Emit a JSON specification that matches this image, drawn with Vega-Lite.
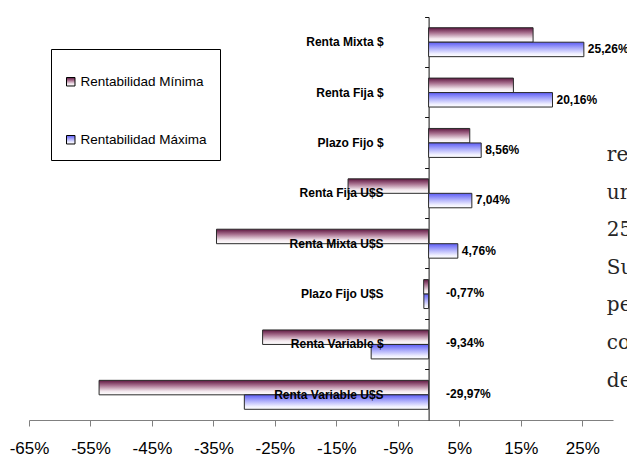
{
  "$schema": "https://vega.github.io/schema/vega-lite/v6.json",
  "width": 584,
  "height": 403,
  "autosize": {"type": "none"},
  "padding": {"left": 29, "top": 17, "right": 14, "bottom": 35},
  "background": "white",
  "config": {
    "locale": {"number": {"decimal": ",", "thousands": ".", "grouping": [3], "currency": ["$", ""], "minus": "-"}},
    "view": {"stroke": null},
    "font": "Liberation Sans"
  },
  "data": {
    "values": [
      {"fondo": "Renta Mixta $", "serie": "Rentabilidad Mínima", "rentabilidad": 0.170},
      {"fondo": "Renta Mixta $", "serie": "Rentabilidad Máxima", "rentabilidad": 0.2526},
      {"fondo": "Renta Fija $", "serie": "Rentabilidad Mínima", "rentabilidad": 0.138},
      {"fondo": "Renta Fija $", "serie": "Rentabilidad Máxima", "rentabilidad": 0.2016},
      {"fondo": "Plazo Fijo $", "serie": "Rentabilidad Mínima", "rentabilidad": 0.067},
      {"fondo": "Plazo Fijo $", "serie": "Rentabilidad Máxima", "rentabilidad": 0.0856},
      {"fondo": "Renta Fija U$S", "serie": "Rentabilidad Mínima", "rentabilidad": -0.131},
      {"fondo": "Renta Fija U$S", "serie": "Rentabilidad Máxima", "rentabilidad": 0.0704},
      {"fondo": "Renta Mixta U$S", "serie": "Rentabilidad Mínima", "rentabilidad": -0.345},
      {"fondo": "Renta Mixta U$S", "serie": "Rentabilidad Máxima", "rentabilidad": 0.0476},
      {"fondo": "Plazo Fijo U$S", "serie": "Rentabilidad Mínima", "rentabilidad": -0.008},
      {"fondo": "Plazo Fijo U$S", "serie": "Rentabilidad Máxima", "rentabilidad": -0.0077},
      {"fondo": "Renta Variable $", "serie": "Rentabilidad Mínima", "rentabilidad": -0.270},
      {"fondo": "Renta Variable $", "serie": "Rentabilidad Máxima", "rentabilidad": -0.0934},
      {"fondo": "Renta Variable U$S", "serie": "Rentabilidad Mínima", "rentabilidad": -0.536},
      {"fondo": "Renta Variable U$S", "serie": "Rentabilidad Máxima", "rentabilidad": -0.2997}
    ]
  },
  "encoding": {
    "y": {
      "field": "fondo",
      "type": "nominal",
      "sort": null,
      "scale": {"paddingInner": 0, "paddingOuter": 0},
      "axis": {
        "title": null,
        "labels": false,
        "grid": false,
        "ticks": true,
        "tickSize": 4,
        "bandPosition": 0,
        "domainColor": "#111111",
        "tickColor": "#111111",
        "domainWidth": 1,
        "offset": -399.6
      }
    }
  },
  "layer": [
    {
      "mark": {"type": "bar", "stroke": "#2a2a2a", "strokeWidth": 1},
      "encoding": {
        "x": {
          "field": "rentabilidad",
          "type": "quantitative",
          "scale": {"domain": [-0.65, 0.30], "nice": false, "zero": false},
          "axis": {
            "title": null,
            "values": [-0.65, -0.55, -0.45, -0.35, -0.25, -0.15, -0.05, 0.05, 0.15, 0.25],
            "format": ".0%",
            "grid": false,
            "labelFontSize": 17,
            "labelFont": "Liberation Sans",
            "labelColor": "#000000",
            "labelFlush": false,
            "labelOverlap": false,
            "labelPadding": 14,
            "tickSize": 6,
            "tickColor": "#808080",
            "domainColor": "#808080",
            "domainWidth": 1.2
          }
        },
        "yOffset": {
          "field": "serie",
          "type": "nominal",
          "sort": ["Rentabilidad Mínima", "Rentabilidad Máxima"],
          "scale": {"domain": ["Rentabilidad Mínima", "Rentabilidad Máxima"], "paddingInner": 0, "paddingOuter": 0.74}
        },
        "color": {
          "field": "serie",
          "type": "nominal",
          "scale": {
            "domain": ["Rentabilidad Mínima", "Rentabilidad Máxima"],
            "range": [
              {"expr": "{gradient: 'linear', x1: 0, y1: 0, x2: 0, y2: 1, stops: [{offset: 0, color: '#5E1640'}, {offset: 0.35, color: '#A8708F'}, {offset: 0.75, color: '#F3E8EE'}, {offset: 1, color: '#FFFFFF'}]}"},
              {"expr": "{gradient: 'linear', x1: 0, y1: 0, x2: 0, y2: 1, stops: [{offset: 0, color: '#5C5CF5'}, {offset: 0.4, color: '#A9A9FA'}, {offset: 0.8, color: '#F0F0FF'}, {offset: 1, color: '#FFFFFF'}]}"}
            ]
          },
          "legend": {
            "orient": "none",
            "legendX": 22,
            "legendY": 32,
            "title": " ",
            "titleFontSize": 6,
            "titlePadding": 7,
            "symbolType": "square",
            "symbolSize": 72,
            "symbolStrokeColor": "#000000",
            "symbolStrokeWidth": 1,
            "symbolOpacity": 1,
            "labelFontSize": 13.5,
            "labelFont": "Liberation Sans",
            "labelColor": "#000000",
            "labelOffset": 3,
            "strokeColor": "#000000",
            "fillColor": "#FFFFFF",
            "padding": 13,
            "rowPadding": 43,
            "direction": "vertical"
          }
        }
      }
    },
    {
      "transform": [{"filter": "datum.serie === 'Rentabilidad Máxima'"}],
      "mark": {"type": "text", "align": "right", "baseline": "middle", "dx": -45, "fontSize": 12, "fontWeight": "bold", "color": "#000000"},
      "encoding": {
        "x": {"datum": 0, "type": "quantitative"},
        "text": {"field": "fondo", "type": "nominal"}
      }
    },
    {
      "transform": [{"filter": "datum.serie === 'Rentabilidad Máxima' && datum.rentabilidad > 0"}],
      "mark": {"type": "text", "align": "left", "baseline": "middle", "dx": 4, "dy": 7, "fontSize": 12, "fontWeight": "bold", "color": "#000000"},
      "encoding": {
        "x": {"field": "rentabilidad", "type": "quantitative"},
        "text": {"field": "rentabilidad", "type": "quantitative", "format": ".2%"}
      }
    },
    {
      "transform": [{"filter": "datum.serie === 'Rentabilidad Máxima' && datum.rentabilidad < 0"}],
      "mark": {"type": "text", "align": "left", "baseline": "middle", "dx": 17.5, "dy": -1, "fontSize": 12, "fontWeight": "bold", "color": "#000000"},
      "encoding": {
        "x": {"datum": 0, "type": "quantitative"},
        "text": {"field": "rentabilidad", "type": "quantitative", "format": ".2%"}
      }
    },
    {
      "data": {"values": [{"fondo": "Plazo Fijo $"}]},
      "mark": {"type": "text", "text": ["re", "ur", "25", "Su", "pe", "co", "de"], "lineHeight": 37.6, "align": "left", "baseline": "middle", "dy": 12, "font": "DejaVu Serif", "fontSize": 20, "color": "#262626"},
      "encoding": {
        "x": {"datum": 0.29, "type": "quantitative"}
      }
    }
  ]
}
